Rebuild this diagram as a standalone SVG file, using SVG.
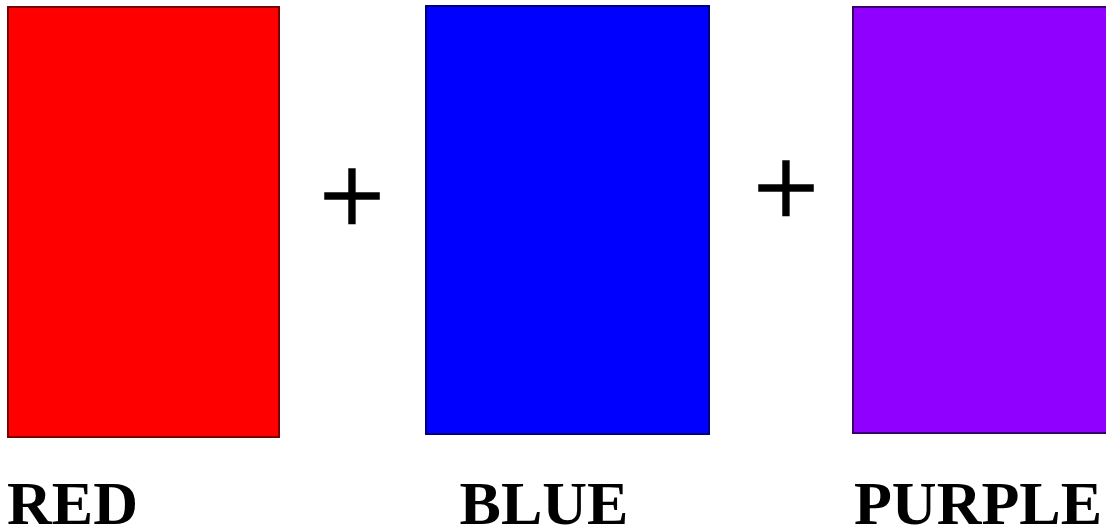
<svg xmlns="http://www.w3.org/2000/svg" width="1106" height="528" viewBox="0 0 1106 528">
<style>
.sw{stroke-width:2}
.lbl{font-family:"Liberation Serif","Times New Roman",serif;font-weight:bold;font-size:62px;fill:#000}
.plus{font-family:"Liberation Serif","Times New Roman",serif;font-size:116px;fill:#000;stroke:#000;stroke-width:1.6}
</style>
<rect width="1106" height="528" fill="#fff"/>
<g id="red">
<rect class="sw" x="8" y="7" width="271" height="430" fill="#ff0000" stroke="#7a0000"/>
<text class="lbl" x="7" y="524">RED</text>
</g>
<g id="blue">
<rect class="sw" x="426" y="6" width="283" height="428" fill="#0000ff" stroke="#00007a"/>
<text class="lbl" x="544" y="524" text-anchor="middle">BLUE</text>
</g>
<g id="purple">
<rect class="sw" x="853" y="7" width="260" height="426" fill="#8f00ff" stroke="#3a006a"/>
<text class="lbl" x="854" y="524">PURPLE</text>
</g>
<g id="connectors">
<text class="plus" x="352" y="235" text-anchor="middle">+</text>
<text class="plus" x="786" y="227" text-anchor="middle">+</text>
</g>
</svg>
